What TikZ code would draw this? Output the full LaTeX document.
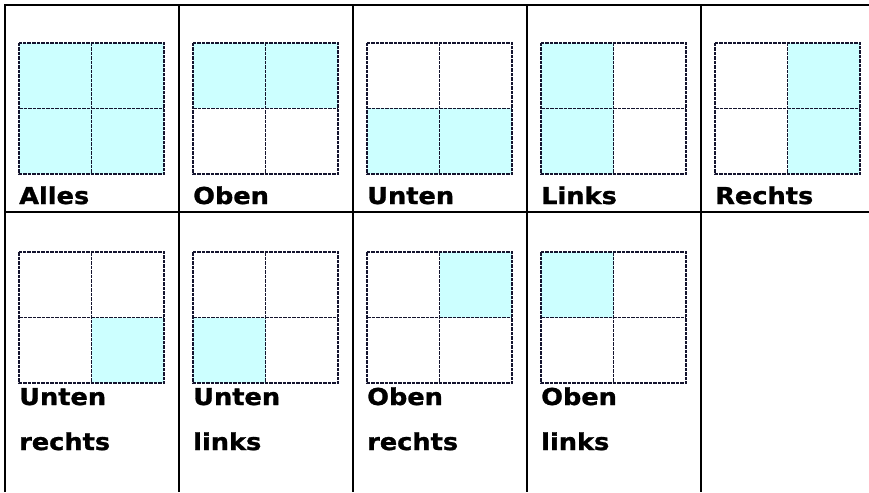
\documentclass[tikz,border=0pt]{standalone}
\usepackage{fontspec}
\newfontfamily\lblfont[FakeStretch=1.1,FakeBold=1.2]{DejaVu Sans Bold}
\definecolor{lightcyan}{HTML}{CCFFFF}
\definecolor{gridink}{HTML}{14142E}
\tikzset{
  frame/.style={line width=2.2pt,black},
  quad/.style={gridink,line width=1.9pt,dash pattern=on 3.5pt off 1pt},
  lbl/.style={anchor=base west,inner sep=0pt,font=\lblfont\fontsize{23.3}{28}\selectfont}
}
\begin{document}
\begin{tikzpicture}[x=1pt,y=-1pt]
\useasboundingbox (0,0) rectangle (869,492);
% filled quarters: column/row/quarter x/quarter y
\foreach \c/\r/\i/\j in {0/0/0/0,0/0/1/0,0/0/0/1,0/0/1/1,
  1/0/0/0,1/0/1/0, 2/0/0/1,2/0/1/1, 3/0/0/0,3/0/0/1, 4/0/1/0,4/0/1/1,
  0/1/1/1, 1/1/0/1, 2/1/1/0, 3/1/0/0}
  \fill[lightcyan] ({19+174*\c+72.5*\i},{43+209*\r+65.5*\j}) rectangle ++(72.5,65.5);
% dashed squares
\foreach \c/\r in {0/0,1/0,2/0,3/0,4/0,0/1,1/1,2/1,3/1}
  \draw[quad] ({19+174*\c},{43+209*\r}) rectangle ++(145,131)
    ({91.5+174*\c},{43+209*\r}) -- ++(0,131)
    ({19+174*\c},{108.5+209*\r}) -- ++(145,0);
% table lines
\draw[frame] (5,492) -- (5,5) -- (869,5) (5,212) -- (869,212);
\foreach \x in {179,353,527,701} \draw[frame] (\x,5) -- (\x,492);
% labels
\node[lbl] (alles) at (19,204) {Alles};
\node[lbl] (oben) at (193,204) {Oben};
\node[lbl] (unten) at (367,204) {Unten};
\node[lbl] (links) at (541,204) {Links};
\node[lbl] (rechts) at (715,204) {Rechts};
\node[lbl] (ur1) at (19,405) {Unten};
\node[lbl] (ur2) at (19,450) {rechts};
\node[lbl] (ul1) at (193,405) {Unten};
\node[lbl] (ul2) at (193,450) {links};
\node[lbl] (or1) at (367,405) {Oben};
\node[lbl] (or2) at (367,450) {rechts};
\node[lbl] (ol1) at (541,405) {Oben};
\node[lbl] (ol2) at (541,450) {links};
\end{tikzpicture}
\end{document}
